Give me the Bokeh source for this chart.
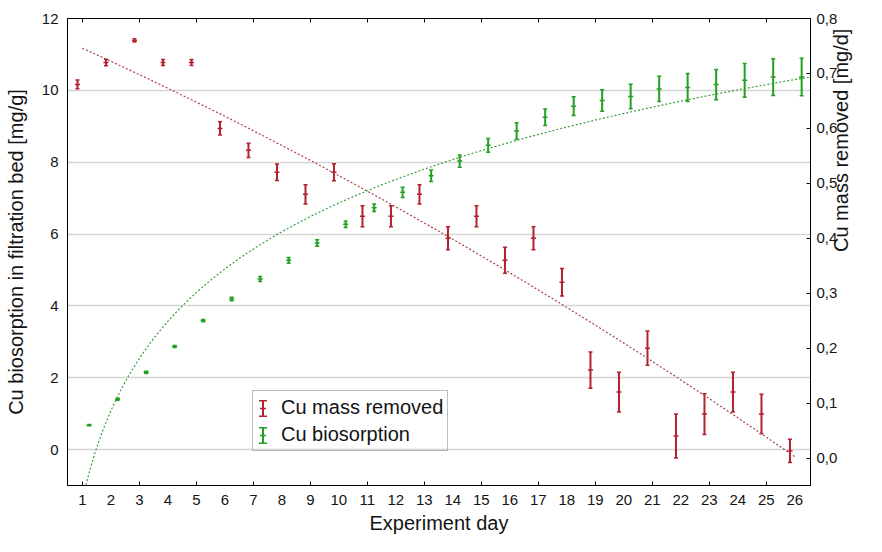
import math
import numpy as np
from bokeh.plotting import figure
from bokeh.models import (Range1d, LinearAxis, FixedTicker, Whisker, TeeHead, ColumnDataSource,
                          Legend, LegendItem, CustomJSTickFormatter, BoxAnnotation)
from bokeh.embed import file_html
from bokeh.resources import INLINE

# ---------------- data ----------------
days = list(range(1, 27))
mass_removed = [0.68, 0.72, 0.76, 0.72, 0.72, 0.60, 0.56, 0.52, 0.48, 0.52, 0.44, 0.44, 0.48,
                0.40, 0.44, 0.36, 0.40, 0.32, 0.16, 0.12, 0.20, 0.04, 0.08, 0.12, 0.08, 0.013]
mass_removed_err = [0.008, 0.006, 0.003, 0.0055, 0.0055, 0.012, 0.013, 0.015, 0.0175, 0.0155,
                    0.019, 0.019, 0.0175, 0.021, 0.019, 0.0235, 0.021, 0.025, 0.033, 0.036,
                    0.031, 0.040, 0.037, 0.036, 0.036, 0.021]
biosorption = [0.68, 1.40, 2.15, 2.87, 3.59, 4.19, 4.75, 5.27, 5.75, 6.27, 6.73, 7.16, 7.62,
               8.03, 8.47, 8.87, 9.25, 9.56, 9.72, 9.83, 10.04, 10.08, 10.16, 10.28, 10.37, 10.37]
biosorption_err = [0.02, 0.03, 0.03, 0.03, 0.03, 0.05, 0.07, 0.08, 0.09, 0.09, 0.105, 0.14, 0.16,
                   0.17, 0.19, 0.23, 0.23, 0.26, 0.30, 0.34, 0.35, 0.39, 0.42, 0.47, 0.51, 0.52]
left_ticks = [0, 2, 4, 6, 8, 10, 12]
right_ticks = [0.0, 0.1, 0.2, 0.3, 0.4, 0.5, 0.6, 0.7, 0.8]
x_minor_ticks = [1, 3, 5, 7, 9, 11, 13, 15, 17, 19, 21, 23, 25]
legend_labels = ["Cu mass removed", "Cu biosorption"]
x_label = "Experiment day"
y_left_label = "Cu biosorption in filtration bed [mg/g]"
y_right_label = "Cu mass removed [mg/d]"

# ---------------- style ----------------
RED = "#b3212d"
GREEN = "#22a022"
RED_FIT = "#a8424c"
GREEN_FIT = "#3c9c3c"
FONT = "Liberation Sans"
TXT = "#141414"

d = np.array(days, dtype=float)
mr = np.array(mass_removed)
mre = np.array(mass_removed_err)
bs = np.array(biosorption)
bse = np.array(biosorption_err)

red_src = ColumnDataSource(dict(x=d - 0.17, y=mr, lo=mr - mre, hi=mr + mre))
green_src = ColumnDataSource(dict(x=d + 0.24, y=bs, lo=bs - bse, hi=bs + bse))

# fitted trend curves (computed from the data)
red_coef = np.polyfit(d, mr, 2)
t_red = np.linspace(d.min(), d.max(), 200)
red_fit = np.polyval(red_coef, t_red)
g_coef = np.polyfit(np.log(d), bs, 1)
t_g = np.linspace(d.min(), 26.55, 300)
g_fit = np.polyval(g_coef, np.log(t_g))

p = figure(width=866, height=536, x_range=Range1d(0.48, 26.55), y_range=Range1d(-1, 12),
           output_backend="svg", toolbar_location=None,
           min_border_left=67, min_border_right=45, min_border_top=18, min_border_bottom=50)
p.extra_y_ranges = {"right": Range1d(-0.05, 0.8)}
p.background_fill_color = "white"
p.border_fill_color = "white"
p.outline_line_color = "black"
p.outline_line_width = 1

p.xgrid.visible = False
p.ygrid.ticker = FixedTicker(ticks=left_ticks)
p.ygrid.grid_line_color = "#d5d5d5"
p.ygrid.grid_line_width = 1.5


def style_axis(ax):
    ax.axis_line_color = "black"
    ax.major_tick_line_color = "black"
    ax.minor_tick_line_color = "black"
    ax.major_label_text_font = FONT
    ax.major_label_text_font_size = "15px"
    ax.major_label_text_color = TXT
    ax.axis_label_text_font = FONT
    ax.axis_label_text_font_size = "20px"
    ax.axis_label_text_font_style = "normal"
    ax.axis_label_text_color = TXT


xa = p.xaxis[0]
style_axis(xa)
xa.ticker = FixedTicker(ticks=days, minor_ticks=x_minor_ticks)
xa.major_tick_in = 0
xa.major_tick_out = 0
xa.minor_tick_in = 4
xa.minor_tick_out = 0
xa.major_label_standoff = 9
xa.axis_label = x_label
xa.axis_label_standoff = 4

ya = p.yaxis[0]
style_axis(ya)
ya.ticker = FixedTicker(ticks=left_ticks)
ya.major_tick_in = 0
ya.major_tick_out = 0
ya.minor_tick_in = 0
ya.minor_tick_out = 0
ya.major_label_standoff = 9
ya.axis_label = y_left_label
ya.axis_label_standoff = 12

top = LinearAxis(ticker=FixedTicker(ticks=[], minor_ticks=x_minor_ticks))
style_axis(top)
top.major_label_text_font_size = "0px"
top.major_label_standoff = 0
top.major_tick_in = 0
top.major_tick_out = 0
top.minor_tick_in = 4
top.minor_tick_out = 0
p.add_layout(top, "above")

ra = LinearAxis(y_range_name="right", ticker=FixedTicker(ticks=right_ticks),
                formatter=CustomJSTickFormatter(code="return tick.toFixed(1).replace('.', ',');"))
style_axis(ra)
ra.major_tick_in = 4
ra.major_tick_out = 0
ra.minor_tick_in = 0
ra.minor_tick_out = 0
ra.major_label_standoff = 6
ra.axis_label = y_right_label
ra.axis_label_standoff = 1
ra.axis_label_orientation = math.pi / 2
p.add_layout(ra, "right")

# trend lines
p.line(t_red, red_fit, y_range_name="right", line_color=RED_FIT, line_width=1.2, line_dash="2 2")
p.line(t_g, g_fit, line_color=GREEN_FIT, line_width=1.2, line_dash="2 2")

# error bars
for src, col, rng in ((red_src, RED, "right"), (green_src, GREEN, "default")):
    w = Whisker(base="x", lower="lo", upper="hi", source=src, dimension="height",
                line_color=col, line_width=2,
                upper_head=TeeHead(size=4, line_color=col, line_width=1.5),
                lower_head=TeeHead(size=4, line_color=col, line_width=1.5))
    if rng != "default":
        w.y_range_name = rng
    p.add_layout(w)
    if rng != "default":
        p.scatter("x", "y", source=src, marker="dash", size=5, line_color=col, line_width=1.5,
                  y_range_name=rng)
    else:
        p.scatter("x", "y", source=src, marker="dash", size=5, line_color=col, line_width=1.5)

# legend (glyph area filled with error-bar icons drawn as screen-space boxes)
dummy_r = p.scatter(x=[], y=[], fill_alpha=0, line_alpha=0)
dummy_g = p.scatter(x=[], y=[], fill_alpha=0, line_alpha=0)
LEG_X, LEG_Y, PAD, GH, SP = 185, 34, 4, 24, 3
legend = Legend(items=[LegendItem(label=legend_labels[0], renderers=[dummy_r]),
                       LegendItem(label=legend_labels[1], renderers=[dummy_g])],
                location=(LEG_X, LEG_Y), padding=PAD, spacing=SP, margin=0,
                glyph_width=18, glyph_height=GH, label_height=GH, label_standoff=6,
                label_text_font=FONT, label_text_font_size="20px", label_text_color=TXT,
                border_line_color="#7a7a7a", border_line_width=1,
                background_fill_color="white", background_fill_alpha=0)
p.add_layout(legend)

leg_top = LEG_Y + 2 * PAD + 2 * GH + SP
icon_cx = LEG_X + 10.5
for i, col in enumerate((RED, GREEN)):
    cy = leg_top - PAD - GH / 2 - i * (GH + SP)
    boxes = [(icon_cx - 1, icon_cx + 1, cy - 8.5, cy + 8.5),
             (icon_cx - 4, icon_cx + 4, cy + 7, cy + 8.5),
             (icon_cx - 4, icon_cx + 4, cy - 8.5, cy - 7),
             (icon_cx - 3, icon_cx + 3, cy - 0.7, cy + 0.7)]
    for l, r, b, t in boxes:
        p.add_layout(BoxAnnotation(left=l, right=r, bottom=b, top=t,
                                   left_units="screen", right_units="screen",
                                   bottom_units="screen", top_units="screen",
                                   fill_color=col, fill_alpha=1, line_color=None,
                                   level="annotation"))

open("out.html", "w").write(file_html(p, INLINE))
